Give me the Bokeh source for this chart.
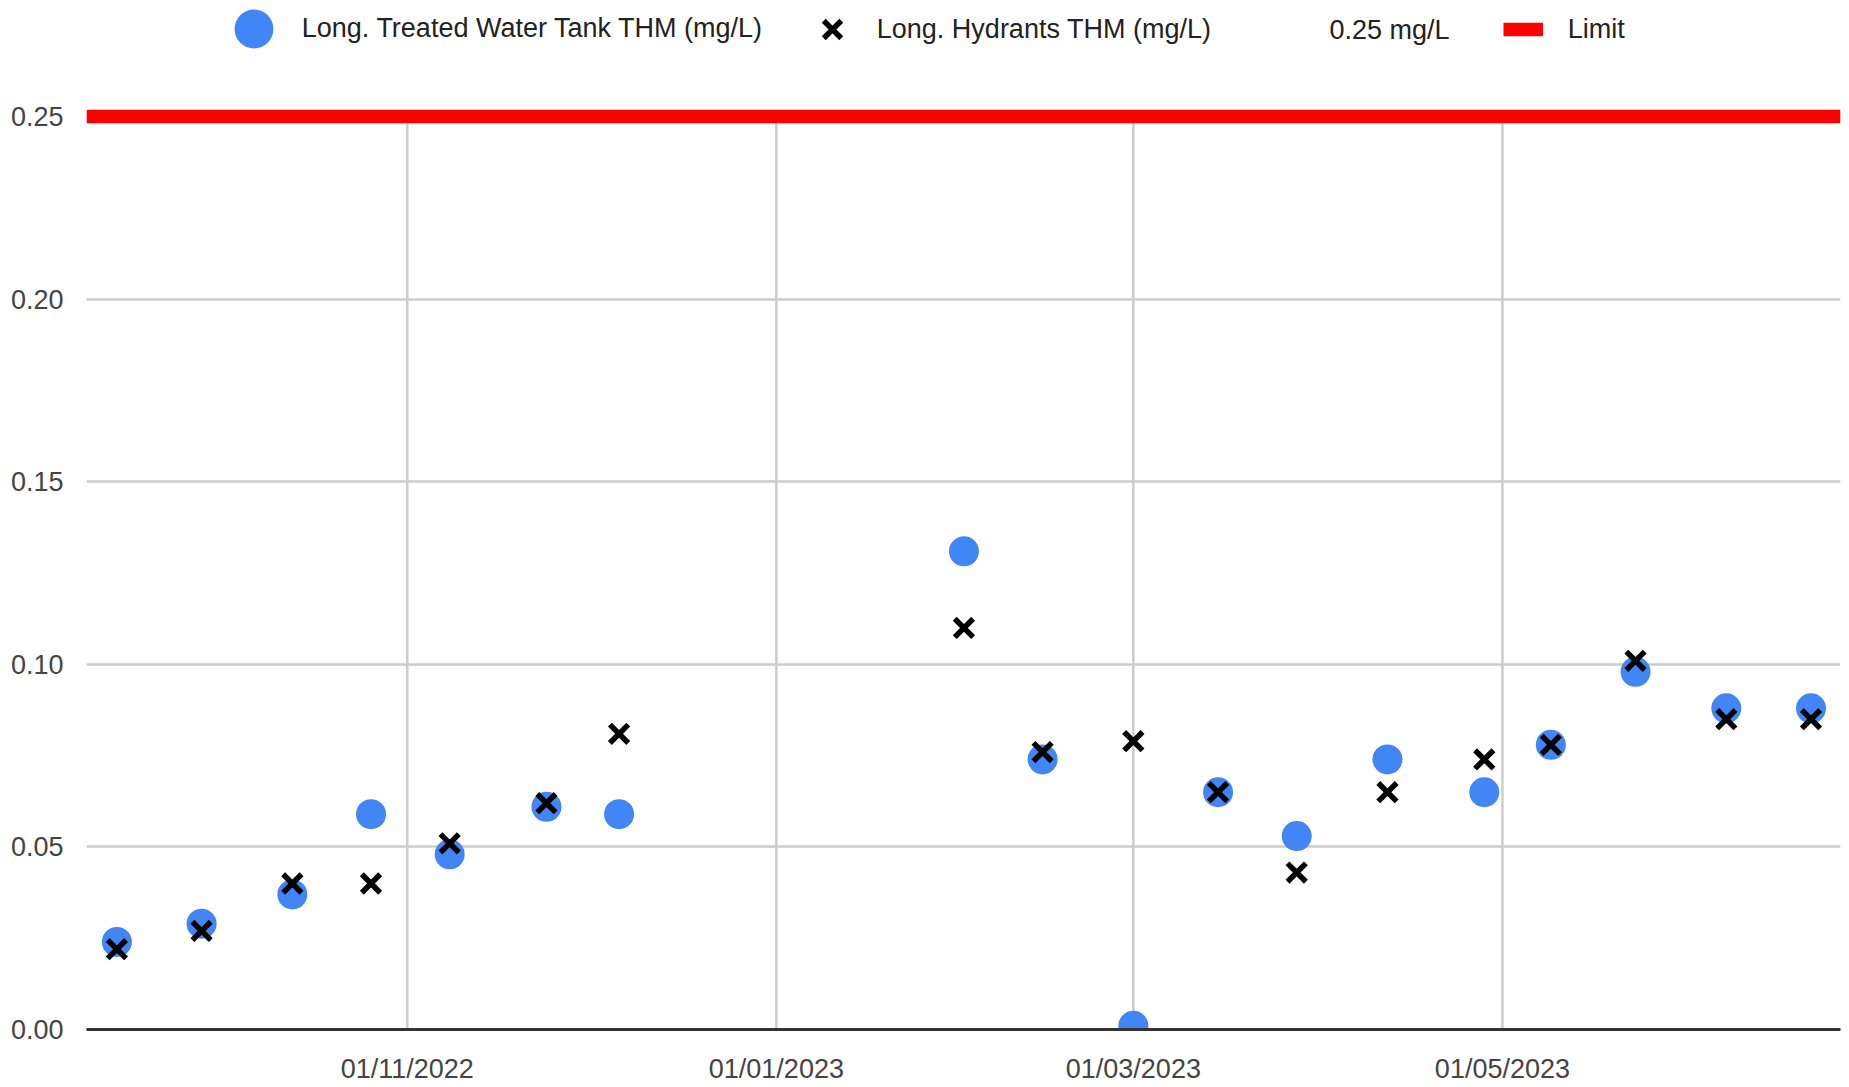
import pandas as pd
from bokeh.plotting import figure
from bokeh.models import (Range1d, FixedTicker, DatetimeTickFormatter,
                          NumeralTickFormatter, Legend, LegendItem)
from bokeh.embed import file_html
from bokeh.resources import INLINE

# ---------------- data ----------------
DATES = ["2022-09-14", "2022-09-28", "2022-10-13", "2022-10-26", "2022-11-08",
         "2022-11-24", "2022-12-06", "2023-02-01", "2023-02-14", "2023-03-01",
         "2023-03-15", "2023-03-28", "2023-04-12", "2023-04-28", "2023-05-09",
         "2023-05-23", "2023-06-07", "2023-06-21"]
TANK_THM = [0.024, 0.029, 0.037, 0.059, 0.048, 0.061, 0.059, 0.131, 0.074, 0.001,
            0.065, 0.053, 0.074, 0.065, 0.078, 0.098, 0.088, 0.088]
HYDRANT_THM = [0.022, 0.027, 0.040, 0.040, 0.051, 0.062, 0.081, 0.110, 0.076, 0.079,
               0.065, 0.043, 0.065, 0.074, 0.078, 0.101, 0.085, 0.085]
LIMIT = [0.25]
X_TICKS = ["2022-11-01", "2023-01-01", "2023-03-01", "2023-05-01"]
Y_TICKS = [0.0, 0.05, 0.10, 0.15, 0.20, 0.25]
SERIES = ["Long. Treated Water Tank THM (mg/L)", "Long. Hydrants THM (mg/L)",
          "0.25 mg/L", "Limit"]
X_START = "2022-09-08 23:30"
X_END = "2023-06-25 21:00"
Y_END = 0.2819   # headroom above the limit, where the legend sits

FONT = "Liberation Sans"
FSIZE = "27px"

dates = pd.to_datetime(DATES)
x_ticks = pd.to_datetime(X_TICKS)
x_tick_ms = [t.value // 10**6 for t in x_ticks]

FRAME_H = 1029
p = figure(frame_width=1754, frame_height=FRAME_H, x_axis_type="datetime",
           x_range=Range1d(pd.Timestamp(X_START).to_pydatetime(),
                           pd.Timestamp(X_END).to_pydatetime()),
           y_range=Range1d(0, Y_END),
           output_backend="svg", toolbar_location=None,
           min_border_left=86, min_border_right=1, min_border_top=0,
           min_border_bottom=0)
p.outline_line_color = None
p.background_fill_color = "white"

# grids: horizontal from the grid, vertical ones only up to the limit
p.xgrid.visible = False
p.ygrid.ticker = FixedTicker(ticks=Y_TICKS)
p.ygrid.grid_line_color = "#cccccc"
p.ygrid.grid_line_width = 2.5
p.segment(x0=x_ticks, y0=[Y_TICKS[0]] * len(x_ticks), x1=x_ticks,
          y1=LIMIT * len(x_ticks), line_color="#cccccc", line_width=2.5)

# x axis
fmt = "%d/%m/%Y"
p.xaxis.ticker = FixedTicker(ticks=x_tick_ms)
p.xaxis.formatter = DatetimeTickFormatter(
    microseconds=fmt, milliseconds=fmt, seconds=fmt, minsec=fmt, minutes=fmt,
    hourmin=fmt, hours=fmt, days=fmt, months=fmt, years=fmt)
p.xaxis.axis_line_color = "#333333"
p.xaxis.axis_line_width = 3
p.xaxis.major_tick_line_color = None
p.xaxis.minor_tick_line_color = None
p.xaxis.major_label_standoff = 18

# y axis
p.yaxis.ticker = FixedTicker(ticks=Y_TICKS)
p.yaxis.formatter = NumeralTickFormatter(format="0.00")
p.yaxis.axis_line_color = None
p.yaxis.major_tick_line_color = None
p.yaxis.minor_tick_line_color = None
p.yaxis.major_label_standoff = 17

for ax in (p.xaxis, p.yaxis):
    ax.major_label_text_font = FONT
    ax.major_label_text_font_size = FSIZE
    ax.major_label_text_color = "#444444"

# renderers
lim = p.hspan(y=LIMIT, line_color="#ff0000", line_width=13.3)
circ = p.scatter(x=dates, y=TANK_THM, marker="circle", size=30,
                 fill_color="#4285f4", line_color=None)
xr = p.scatter(x=dates, y=HYDRANT_THM, marker="x", size=26,
               line_color="black", line_width=5.5)

FB = FRAME_H  # frame bottom in canvas px


def add_legend(label, renderer, gw, gh, standoff, vx, vy):
    lg = Legend(items=[LegendItem(label=label, renderers=[renderer])],
                location=(vx, vy), orientation="horizontal",
                glyph_width=gw, glyph_height=gh, label_standoff=standoff,
                padding=0, margin=0, spacing=0,
                border_line_color=None, background_fill_alpha=0,
                label_text_font=FONT, label_text_font_size=FSIZE,
                label_text_color="#222222")
    p.add_layout(lg)


add_legend(SERIES[0], circ, 97, 97, -4, 118.8, FB - 76.5)
add_legend(SERIES[1], xr, 62, 62, 14, 714.8, FB - 60)
add_legend(SERIES[2], lim, 0, 50, 0, 1243.4, FB - 55)
add_legend(SERIES[3], lim, 40, 50, 25, 1416.7, FB - 54)

open("out.html", "w").write(file_html(p, INLINE))
